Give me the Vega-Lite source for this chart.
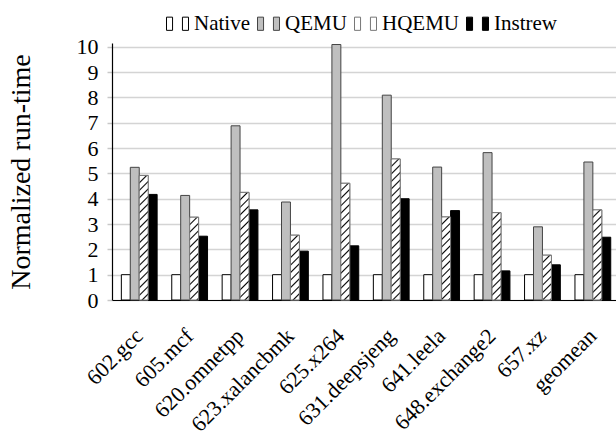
{
  "$schema": "https://vega.github.io/schema/vega-lite/v6.json",
  "width": 504,
  "height": 257,
  "autosize": {"type": "none"},
  "padding": {"left": 112, "top": 43, "right": 0, "bottom": 142},
  "config": {"view": {"stroke": null}, "font": "Liberation Serif, DejaVu Serif, serif"},
  "params": [
    {"name": "hatchStops", "value": [{"offset":0,"color":"#000"},{"offset":0.01,"color":"#fff"},{"offset":0.04,"color":"#fff"},{"offset":0.05,"color":"#000"},{"offset":0.06,"color":"#fff"},{"offset":0.09,"color":"#fff"},{"offset":0.1,"color":"#000"},{"offset":0.11,"color":"#fff"},{"offset":0.14,"color":"#fff"},{"offset":0.15,"color":"#000"},{"offset":0.16,"color":"#fff"},{"offset":0.19,"color":"#fff"},{"offset":0.2,"color":"#000"},{"offset":0.21,"color":"#fff"},{"offset":0.24,"color":"#fff"},{"offset":0.25,"color":"#000"},{"offset":0.26,"color":"#fff"},{"offset":0.29,"color":"#fff"},{"offset":0.3,"color":"#000"},{"offset":0.31,"color":"#fff"},{"offset":0.34,"color":"#fff"},{"offset":0.35,"color":"#000"},{"offset":0.36,"color":"#fff"},{"offset":0.39,"color":"#fff"},{"offset":0.4,"color":"#000"},{"offset":0.41,"color":"#fff"},{"offset":0.44,"color":"#fff"},{"offset":0.45,"color":"#000"},{"offset":0.46,"color":"#fff"},{"offset":0.49,"color":"#fff"},{"offset":0.5,"color":"#000"},{"offset":0.51,"color":"#fff"},{"offset":0.54,"color":"#fff"},{"offset":0.55,"color":"#000"},{"offset":0.56,"color":"#fff"},{"offset":0.59,"color":"#fff"},{"offset":0.6,"color":"#000"},{"offset":0.61,"color":"#fff"},{"offset":0.64,"color":"#fff"},{"offset":0.65,"color":"#000"},{"offset":0.66,"color":"#fff"},{"offset":0.69,"color":"#fff"},{"offset":0.7,"color":"#000"},{"offset":0.71,"color":"#fff"},{"offset":0.74,"color":"#fff"},{"offset":0.75,"color":"#000"},{"offset":0.76,"color":"#fff"},{"offset":0.79,"color":"#fff"},{"offset":0.8,"color":"#000"},{"offset":0.81,"color":"#fff"},{"offset":0.84,"color":"#fff"},{"offset":0.85,"color":"#000"},{"offset":0.86,"color":"#fff"},{"offset":0.89,"color":"#fff"},{"offset":0.9,"color":"#000"},{"offset":0.91,"color":"#fff"},{"offset":0.94,"color":"#fff"},{"offset":0.95,"color":"#000"},{"offset":0.96,"color":"#fff"},{"offset":0.99,"color":"#fff"},{"offset":1,"color":"#000"}]}
  ],
  "data": {
    "values": [
      {"bench": "602.gcc", "sys": "Native", "value": 1},
      {"bench": "602.gcc", "sys": "QEMU", "value": 5.24},
      {"bench": "602.gcc", "sys": "HQEMU", "value": 4.92},
      {"bench": "602.gcc", "sys": "Instrew", "value": 4.17},
      {"bench": "605.mcf", "sys": "Native", "value": 1},
      {"bench": "605.mcf", "sys": "QEMU", "value": 4.13},
      {"bench": "605.mcf", "sys": "HQEMU", "value": 3.27},
      {"bench": "605.mcf", "sys": "Instrew", "value": 2.52},
      {"bench": "620.omnetpp", "sys": "Native", "value": 1},
      {"bench": "620.omnetpp", "sys": "QEMU", "value": 6.88},
      {"bench": "620.omnetpp", "sys": "HQEMU", "value": 4.25},
      {"bench": "620.omnetpp", "sys": "Instrew", "value": 3.56},
      {"bench": "623.xalancbmk", "sys": "Native", "value": 1},
      {"bench": "623.xalancbmk", "sys": "QEMU", "value": 3.87},
      {"bench": "623.xalancbmk", "sys": "HQEMU", "value": 2.56},
      {"bench": "623.xalancbmk", "sys": "Instrew", "value": 1.93},
      {"bench": "625.x264", "sys": "Native", "value": 1},
      {"bench": "625.x264", "sys": "QEMU", "value": 10.09},
      {"bench": "625.x264", "sys": "HQEMU", "value": 4.61},
      {"bench": "625.x264", "sys": "Instrew", "value": 2.14},
      {"bench": "631.deepsjeng", "sys": "Native", "value": 1},
      {"bench": "631.deepsjeng", "sys": "QEMU", "value": 8.09},
      {"bench": "631.deepsjeng", "sys": "HQEMU", "value": 5.57},
      {"bench": "631.deepsjeng", "sys": "Instrew", "value": 4.0},
      {"bench": "641.leela", "sys": "Native", "value": 1},
      {"bench": "641.leela", "sys": "QEMU", "value": 5.25},
      {"bench": "641.leela", "sys": "HQEMU", "value": 3.28},
      {"bench": "641.leela", "sys": "Instrew", "value": 3.53},
      {"bench": "648.exchange2", "sys": "Native", "value": 1},
      {"bench": "648.exchange2", "sys": "QEMU", "value": 5.82},
      {"bench": "648.exchange2", "sys": "HQEMU", "value": 3.45},
      {"bench": "648.exchange2", "sys": "Instrew", "value": 1.15},
      {"bench": "657.xz", "sys": "Native", "value": 1},
      {"bench": "657.xz", "sys": "QEMU", "value": 2.89},
      {"bench": "657.xz", "sys": "HQEMU", "value": 1.77},
      {"bench": "657.xz", "sys": "Instrew", "value": 1.39},
      {"bench": "geomean", "sys": "Native", "value": 1},
      {"bench": "geomean", "sys": "QEMU", "value": 5.45},
      {"bench": "geomean", "sys": "HQEMU", "value": 3.56},
      {"bench": "geomean", "sys": "Instrew", "value": 2.48}
    ]
  },
  "encoding": {
    "x": {
      "field": "bench", "type": "nominal", "sort": null,
      "scale": {"paddingInner": 0.29, "paddingOuter": 0.145, "align": 0.64},
      "axis": {"title": null, "labelAngle": -45, "labelAlign": "right", "labelBaseline": "middle", "labelFontSize": 22, "labelColor": "#000", "labelPadding": 32, "ticks": false, "domainColor": "#000", "domainWidth": 1.2, "labelFont": "Liberation Serif, DejaVu Serif, serif"}
    },
    "xOffset": {"field": "sys", "type": "nominal", "sort": ["Native", "QEMU", "HQEMU", "Instrew"], "scale": {"paddingInner": 0, "paddingOuter": 0}},
    "y": {
      "field": "value", "type": "quantitative",
      "scale": {"domain": [0, 10.15], "nice": false, "zero": true},
      "axis": {"values": [0,1,2,3,4,5,6,7,8,9,10], "format": "d", "title": "Normalized run-time", "titleFont": "Liberation Serif, DejaVu Serif, serif", "titleFontSize": 28, "titleFontWeight": "normal", "titleColor": "#000", "titlePadding": 41, "labelFont": "Liberation Serif, DejaVu Serif, serif", "labelFontSize": 22, "labelColor": "#000", "labelPadding": 9, "tickColor": "#c8c8c8", "tickSize": 5, "tickWidth": 1.5, "grid": true, "gridColor": "#d4d4d4", "gridWidth": 1.5, "domainColor": "#000", "domainWidth": 1.2}
    }
  },
  "layer": [
    {
      "mark": {"type": "bar", "strokeWidth": 1},
      "encoding": {
        "fill": {
          "field": "sys", "type": "nominal",
          "scale": {"domain": ["Native", "QEMU", "HQEMU", "Instrew"], "range": ["#ffffff", "#bfbfbf", "#ffffff", "#000000"]},
          "legend": {"title": null, "orient": "none", "legendX": 54, "legendY": -31, "direction": "horizontal", "columns": 4, "padding": 0, "symbolType": "M-1,-0.6h0.55v1.2h-0.55Z M0.45,-0.6h0.55v1.2h-0.55Z", "symbolSize": 484, "symbolStrokeWidth": 1, "symbolOpacity": 1, "labelFont": "Liberation Serif, DejaVu Serif, serif", "labelFontSize": 21, "labelColor": "#000", "labelOffset": 5, "columnPadding": 5,
            "encode": {"symbols": {"update": {
              "fill": {"signal": "datum.value==='HQEMU' ? {gradient:'linear',x1:0,y1:0,x2:4.7,y2:2.95,stops:hatchStops} : datum.value==='QEMU' ? '#bfbfbf' : datum.value==='Instrew' ? '#000000' : '#ffffff'"},
              "stroke": {"signal": "datum.value==='QEMU' ? '#444444' : datum.value==='HQEMU' ? '#777777' : '#000000'"}
            }}}
          }
        },
        "stroke": {
          "field": "sys", "type": "nominal",
          "scale": {"domain": ["Native", "QEMU", "HQEMU", "Instrew"], "range": ["#000000", "#444444", "#777777", "#000000"]},
          "legend": null
        }
      }
    },
    {
      "transform": [{"filter": "datum.sys === 'HQEMU'"}],
      "mark": {"type": "bar", "stroke": "#777777", "strokeWidth": 1, "fill": {"expr": "{gradient:'linear',x1:0,y1:0,x2:1342.5/(80.1+pow(datum.value*25.32,2)),y2:3798*datum.value/(80.1+pow(datum.value*25.32,2)),stops:hatchStops}"}}
    }
  ]
}
